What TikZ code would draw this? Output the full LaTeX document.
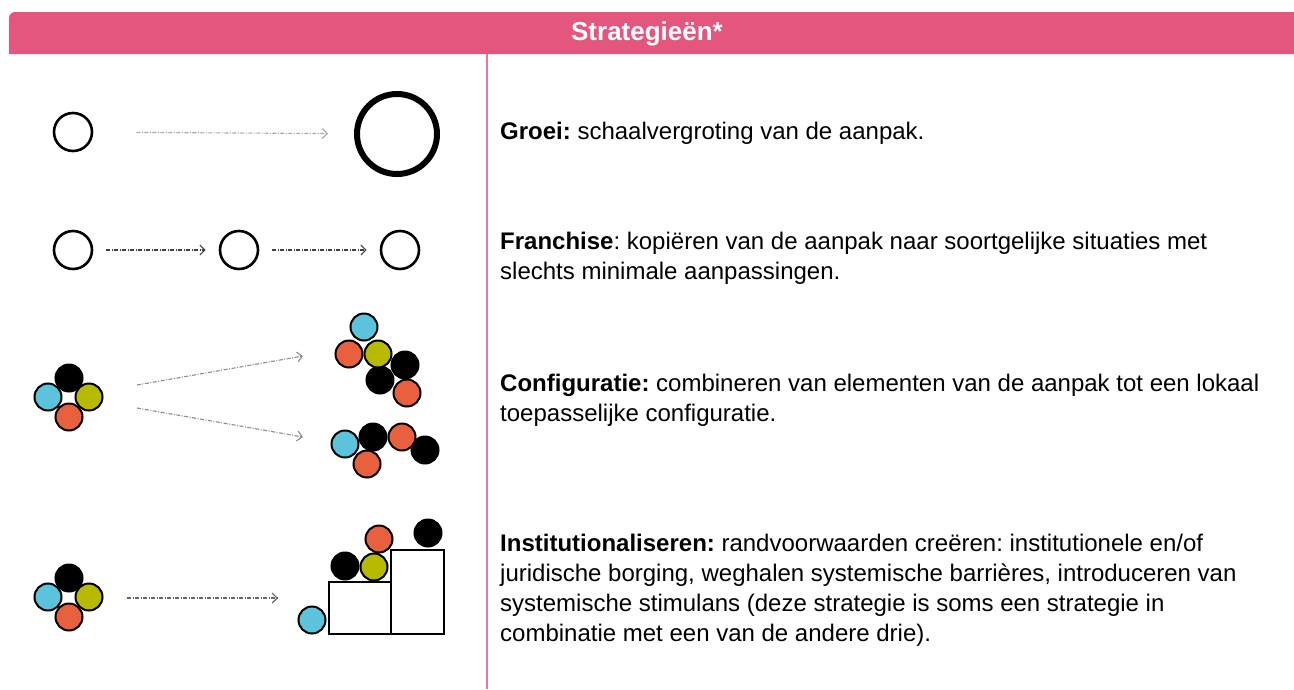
\documentclass[tikz,border=0pt]{standalone}
\usepackage{fontspec}
\setmainfont{Liberation Sans}
\usepackage{xcolor}
\usetikzlibrary{arrows.meta}

\definecolor{pinkbar}{HTML}{E5567F}
\definecolor{dotblue}{HTML}{5BC3DC}
\definecolor{dotred}{HTML}{E9603F}
\definecolor{dotyel}{HTML}{B7BA00}

\tikzset{
    ring/.style={circle, draw=black, line width=2.6pt, minimum size=38pt, inner sep=0pt},
    bigring/.style={circle, draw=black, line width=6pt, minimum size=80pt, inner sep=0pt},
    dot/.style={circle, draw=black, line width=2pt, minimum size=27pt, inner sep=0pt},
    flow/.style={-{Straight Barb[length=5pt, width=10pt]}, line width=1.1pt,
                 dash pattern=on 4pt off 1.5pt on 1pt off 1.5pt},
    stepbox/.style={draw=black, line width=2.8pt},
    explain/.style={anchor=west, align=left, inner sep=0pt, font=\fontsize{24}{30}\selectfont}
}

\frenchspacing
\begin{document}
\begin{tikzpicture}[x=1pt, y=-1pt]
    \useasboundingbox (0,0) rectangle (1294,689);

    %% header
    \fill[pinkbar] (9,54) [rounded corners=6pt] -- (9,12) [sharp corners] -- (1294,12) -- (1294,54) -- cycle;
    \node[text=white, font=\fontsize{26}{30}\selectfont\bfseries] (title) at (647,34) {Strategieën*};
    \draw[pinkbar!80, line width=1.5pt] (487,54) -- (487,689);

    %% Groei
    \node[ring]    (g1) at (73,132)  {};
    \node[bigring] (g2) at (397,134) {};
    \draw[flow, black!35, shorten <=43pt, shorten >=26pt] (g1) -- (g2);
    \node[explain] (groei) at (500,133) {\textbf{Groei:} schaalvergroting van de aanpak.};

    %% Franchise
    \node[ring] (f1) at (73,250)  {};
    \node[ring] (f2) at (239,250) {};
    \node[ring] (f3) at (400,250) {};
    \draw[flow, black!75, shorten <=13pt, shorten >=13pt] (f1) -- (f2);
    \draw[flow, black!75, shorten <=13pt, shorten >=13pt] (f2) -- (f3);
    \node[explain] (franchise) at (500,258) {\textbf{Franchise}: kopiëren van de aanpak naar soortgelijke situaties met\\
                                             slechts minimale aanpassingen.};

    %% Configuratie
    \node[dot, fill=black]  (k1) at (69,378) {};
    \node[dot, fill=dotblue] (k2) at (48,397) {};
    \node[dot, fill=dotyel]  (k3) at (89,397) {};
    \node[dot, fill=dotred]  (k4) at (69,417) {};

    \node[dot, fill=dotblue] (ka1) at (364,327) {};
    \node[dot, fill=dotred]  (ka2) at (349,354) {};
    \node[dot, fill=black]   (ka4) at (405,365) {};
    \node[dot, fill=black]   (ka5) at (380,380) {};
    \node[dot, fill=dotyel]  (ka3) at (378,354) {};
    \node[dot, fill=dotred]  (ka6) at (407,393) {};

    \node[dot, fill=black]   (kb4) at (425,450) {};
    \node[dot, fill=dotred]  (kb3) at (402,437) {};
    \node[dot, fill=black]   (kb2) at (373,437) {};
    \node[dot, fill=dotblue] (kb1) at (345,444) {};
    \node[dot, fill=dotred]  (kb5) at (367,464) {};

    \coordinate (kup0) at (137,385);
    \coordinate (kup1) at (303,356);
    \coordinate (kdn0) at (137,408);
    \coordinate (kdn1) at (303,437);
    \draw[flow, black!45] (kup0) -- (kup1);
    \draw[flow, black!45] (kdn0) -- (kdn1);
    \node[explain] (config) at (500,400) {\textbf{Configuratie:} combineren van elementen van de aanpak tot een lokaal\\
                                          toepasselijke configuratie.};

    %% Institutionaliseren
    \node[dot, fill=black]   (i1) at (69,578) {};
    \node[dot, fill=dotblue] (i2) at (48,597) {};
    \node[dot, fill=dotyel]  (i3) at (89,597) {};
    \node[dot, fill=dotred]  (i4) at (69,617) {};

    \draw[stepbox] (329,582) rectangle (391,634);
    \draw[stepbox] (391,550) rectangle (444,634);
    \node[dot, fill=dotblue] (ia1) at (312,620) {};
    \node[dot, fill=black]   (ia2) at (345,566) {};
    \node[dot, fill=dotred]  (ia4) at (379,539) {};
    \node[dot, fill=dotyel]  (ia3) at (374,567) {};
    \node[dot, fill=black]   (ia5) at (428,533) {};

    \coordinate (inst0) at (127,598);
    \coordinate (inst1) at (278,598);
    \draw[flow, black!60] (inst0) -- (inst1);
    \node[explain] (inst) at (500,590) {\textbf{Institutionaliseren:} randvoorwaarden creëren: institutionele en/of\\
                                        juridische borging, weghalen systemische barrières, introduceren van\\
                                        systemische stimulans (deze strategie is soms een strategie in\\
                                        combinatie met een van de andere drie).};

\end{tikzpicture}
\end{document}
